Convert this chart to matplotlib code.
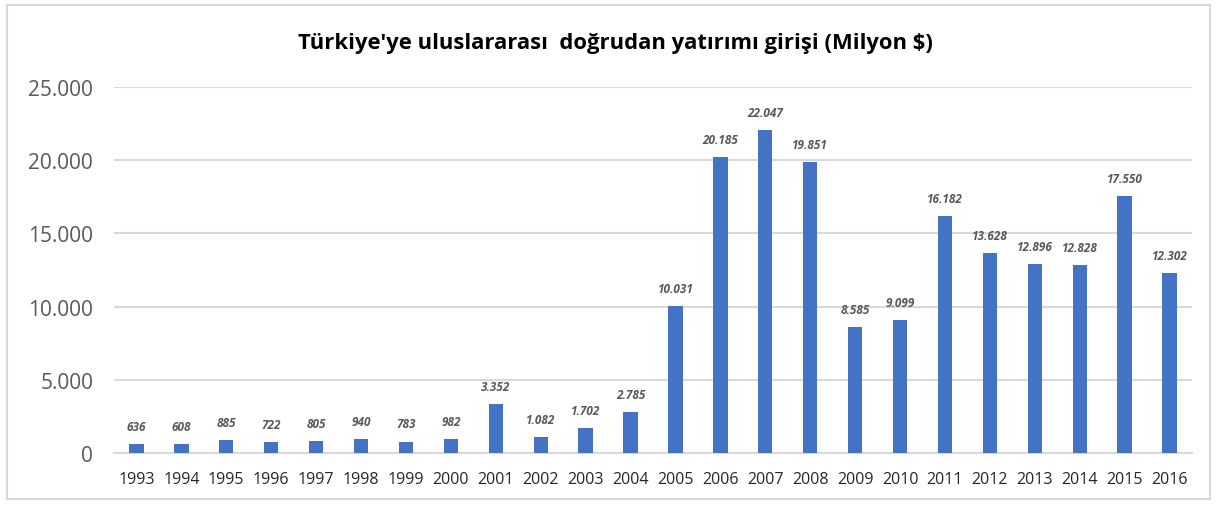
import matplotlib.pyplot as plt
from matplotlib.patches import Rectangle

# Data
years = [str(y) for y in range(1993, 2017)]
values = [636, 608, 885, 722, 805, 940, 783, 982, 3352, 1082, 1702, 2785,
          10031, 20185, 22047, 19851, 8585, 9099, 16182, 13628, 12896, 12828,
          17550, 12302]
yticks = [0, 5000, 10000, 15000, 20000, 25000]

TITLE = "Türkiye'ye uluslararası  doğrudan yatırımı girişi (Milyon $)"
BAR_COLOR = "#4472C4"

plt.rcParams["font.family"] = ["Open Sans", "DejaVu Sans"]


def fmt(v):
    return f"{v:,}".replace(",", ".")


fig = plt.figure(figsize=(12.17, 5.06), dpi=100)
fig.patches.append(Rectangle((7 / 1217, 6 / 506), 1203 / 1217, 494 / 506,
                             transform=fig.transFigure, fill=False,
                             edgecolor="#D9D9D9", linewidth=1.5))

ax = fig.add_axes([114 / 1217, 52 / 506, 1078 / 1217, 366 / 506])
x = list(range(len(years)))
ax.bar(x, values, width=0.32, color=BAR_COLOR, zorder=3)

for xi, v in zip(x, values):
    ax.annotate(fmt(v), (xi, v), xytext=(0, 8), textcoords="offset points",
                ha="center", va="bottom", fontsize=8.5, fontweight="bold",
                fontstyle="italic", color="#595959")

ax.set_xlim(-0.5, len(years) - 0.5)
ax.set_ylim(0, 25000)
ax.set_yticks(yticks)
ax.set_yticklabels([fmt(t) for t in yticks])
ax.set_xticks(x)
ax.set_xticklabels(years)
ax.tick_params(axis="y", length=0, labelsize=15, labelcolor="#595959", pad=15)
ax.tick_params(axis="x", length=0, labelsize=11.5, labelcolor="#262626", pad=13)
ax.grid(axis="y", color="#D9D9D9", linewidth=1.5, zorder=0)
for side in ["top", "right", "left"]:
    ax.spines[side].set_visible(False)
ax.spines["bottom"].set_color("#D9D9D9")
ax.spines["bottom"].set_linewidth(1.5)

fig.text(615 / 1217, 1 - 43 / 506, TITLE, ha="center", va="center",
         fontsize=15.8, fontweight="bold", color="#000000")

fig.savefig("out.png", dpi=100)
